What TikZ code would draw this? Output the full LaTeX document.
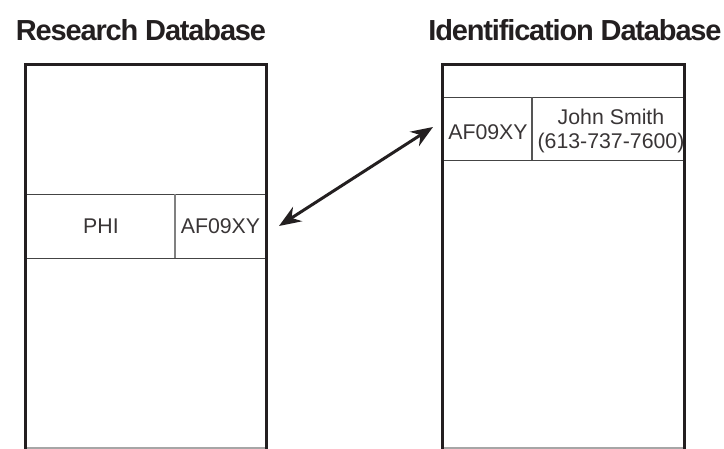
\documentclass[tikz,border=0pt]{standalone}
\usepackage{fontspec}
\setmainfont{Liberation Sans}
\usetikzlibrary{arrows.meta}
\definecolor{ink}{HTML}{231F20}
\definecolor{rule}{HTML}{555555}
\tikzset{
  title/.style={font=\fontsize{29}{32}\selectfont\bfseries\addfontfeatures{LetterSpace=-4}, text=ink},
  cell/.style={font=\fontsize{21.3}{23.5}\selectfont, text=ink!90, align=center},
  frame/.style={draw=ink, line width=3pt},
  row/.style={draw=rule!80!black, line width=1.6pt},
  divider/.style={draw=gray, line width=1.5pt}
}
\begin{document}
\begin{tikzpicture}[x=1pt, y=-1pt, >={Stealth[length=22pt,width=17pt]}]
        \useasboundingbox (0,0) rectangle (724,449);

        \node[title] (RD) at (141,30) {Research Database};
        \node[title] (ID) at (575,30) {Identification Database};

        % research side
        \draw[row] (25,194.5) -- (266,194.5);
        \draw[row] (25,258.5) -- (266,258.5);
        \draw[divider] (175,194.5) -- (175,258.5);
        \node[cell] (PHI) at (101,226) {PHI};
        \node[cell] (RK) at (220.5,226) {AF09XY};

        % identification side
        \draw[row] (442,97.5) -- (684,97.5);
        \draw[row] (442,160.5) -- (684,160.5);
        \draw[divider, draw=rule] (532,97.5) -- (532,160.5);
        \node[cell] (IK) at (488,132) {AF09XY};
        \node[cell] (NAME) at (611,131) {John Smith\\(613-737-7600)};

        % outer frames
        \draw[gray!70, line width=1.2pt] (25,448) -- (266,448);
        \draw[gray!70, line width=1.2pt] (442,448) -- (684,448);
        \draw[frame] (25,449) -- (25,65) -- (266,65) -- (266,449);
        \draw[frame] (442,449) -- (442,65) -- (684,65) -- (684,449);

        \coordinate (A) at (279,226);
        \coordinate (B) at (433,127);
        \draw[<->, line width=3pt, ink] (A) -- (B);
      \end{tikzpicture}
\end{document}
